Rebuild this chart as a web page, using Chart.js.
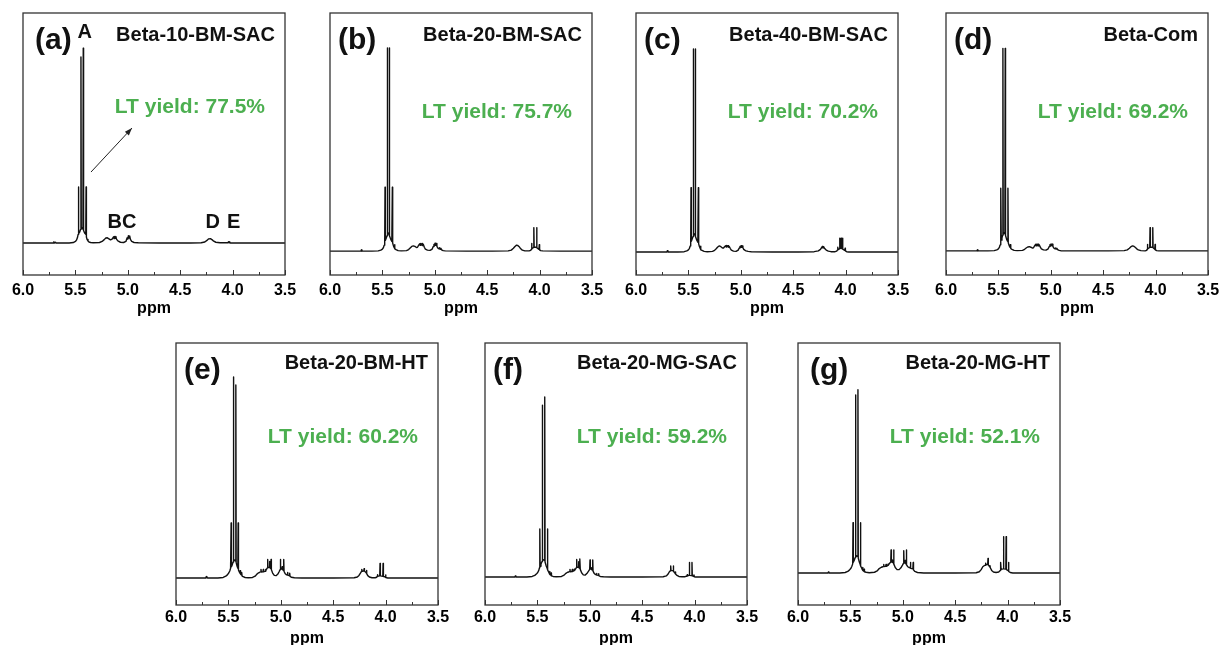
<!DOCTYPE html>
<html>
<head>
<meta charset="utf-8">
<script src="https://cdn.jsdelivr.net/npm/chart.js@4.4.1/dist/chart.umd.min.js"></script>
<style>
  html, body { margin: 0; padding: 0; background: #fff; overflow: hidden; }
  #figure { position: relative; width: 1221px; height: 645px; overflow: hidden; }
  #figure canvas { position: absolute; }
</style>
</head>
<body>
<div id="figure"></div>
<script>
// 1H NMR spectra, 6.0 - 3.5 ppm, one panel per catalyst
const panelTags = ["(a)", "(b)", "(c)", "(d)", "(e)", "(f)", "(g)"];
const sampleNames = ["Beta-10-BM-SAC", "Beta-20-BM-SAC", "Beta-40-BM-SAC", "Beta-Com",
                     "Beta-20-BM-HT", "Beta-20-MG-SAC", "Beta-20-MG-HT"];
const ltYields = [77.5, 75.7, 70.2, 69.2, 60.2, 59.2, 52.1];
const ppmTicks = [6.0, 5.5, 5.0, 4.5, 4.0, 3.5];

// [shift (ppm), intensity (% of frame height)]
const spectrumA = [
  [6.00,12.2],[5.85,12.2],[5.71,12.2],[5.705,12.7],[5.70,12.2],[5.69,12.5],[5.685,12.2],
  [5.56,12.2],[5.52,12.4],[5.50,12.8],[5.49,13.3],[5.481,14.2],[5.474,15.5],
  [5.471,33.6],[5.468,15.8],[5.458,16.5],[5.450,17.5],[5.447,83.2],[5.444,17.5],
  [5.436,18.0],[5.428,17.5],[5.425,86.6],[5.422,17.0],[5.412,16.0],[5.401,15.5],
  [5.398,33.6],[5.395,14.5],[5.389,13.6],[5.380,13.0],[5.370,12.6],[5.355,12.4],[5.33,12.3],
  [5.27,12.4],[5.245,12.8],[5.225,13.5],[5.21,14.1],[5.195,14.2],[5.18,13.8],[5.165,13.4],
  [5.15,13.7],[5.136,14.6],[5.131,13.9],[5.126,14.7],[5.120,14.0],[5.114,14.7],[5.108,13.7],
  [5.095,13.0],[5.07,12.5],[5.04,12.4],[5.018,12.8],[5.006,14.2],[5.000,13.7],[4.994,15.0],
  [4.988,14.1],[4.982,14.9],[4.975,13.6],[4.963,12.8],[4.94,12.4],[4.90,12.3],
  [4.70,12.2],[4.40,12.2],[4.30,12.3],[4.265,12.6],[4.245,13.2],[4.228,13.8],[4.212,13.9],
  [4.197,13.5],[4.18,12.9],[4.16,12.5],[4.12,12.3],[4.045,12.3],[4.038,12.7],[4.034,12.3],
  [4.028,12.7],[4.022,12.2],[3.80,12.2],[3.50,12.2]
];
const spectrumB = [
  [6.00,9.1],[5.85,9.1],[5.705,9.1],[5.700,9.6],[5.695,9.1],[5.60,9.1],[5.54,9.2],[5.515,9.5],
  [5.50,9.9],[5.49,10.5],[5.483,11.4],[5.478,12.6],[5.475,33.5],[5.472,13.2],[5.464,14.0],
  [5.456,15.0],[5.453,86.7],[5.450,15.4],[5.443,16.0],[5.437,15.6],[5.434,86.7],[5.431,15.0],
  [5.420,13.6],[5.410,12.8],[5.405,33.5],[5.402,12.2],[5.395,11.2],[5.388,10.5],[5.384,11.6],
  [5.380,10.0],[5.37,9.7],[5.35,9.3],[5.32,9.2],
  [5.27,9.3],[5.25,9.7],[5.235,10.3],[5.22,10.9],[5.205,11.1],[5.19,10.9],[5.175,10.5],
  [5.165,10.6],[5.155,11.3],[5.145,11.9],[5.140,11.3],[5.135,12.0],[5.128,11.4],[5.122,12.0],
  [5.116,11.2],[5.110,11.7],[5.100,10.6],[5.090,9.9],[5.07,9.5],[5.045,9.4],[5.025,9.9],
  [5.015,10.9],[5.008,11.7],[5.003,11.1],[4.998,12.1],[4.992,11.3],[4.986,12.0],[4.980,11.0],
  [4.972,10.3],[4.962,10.0],[4.955,10.4],[4.950,9.8],[4.942,10.2],[4.935,9.6],[4.92,9.3],[4.90,9.2],
  [4.70,9.1],[4.45,9.1],[4.30,9.2],[4.27,9.5],[4.25,10.2],[4.235,10.9],[4.22,11.4],[4.21,11.3],
  [4.195,10.8],[4.18,10.0],[4.165,9.5],[4.14,9.2],
  [4.10,9.2],[4.085,9.4],[4.079,9.8],[4.076,12.0],[4.073,10.0],[4.058,10.5],[4.055,18.1],
  [4.052,10.6],[4.031,10.6],[4.028,18.1],[4.025,10.4],[4.006,9.8],[4.003,11.6],[4.000,9.6],
  [3.99,9.3],[3.97,9.2],[3.80,9.1],[3.50,9.1]
];
const spectrumC = [
  [6.00,8.8],[5.85,8.8],[5.705,8.8],[5.700,9.3],[5.695,8.8],[5.60,8.8],[5.54,8.9],[5.515,9.2],
  [5.50,9.6],[5.49,10.2],[5.483,11.1],[5.478,12.3],[5.475,33.3],[5.472,12.9],[5.464,13.7],
  [5.456,14.7],[5.453,86.3],[5.450,15.1],[5.443,15.7],[5.437,15.3],[5.434,86.3],[5.431,14.7],
  [5.420,13.3],[5.410,12.5],[5.405,33.3],[5.402,11.9],[5.395,10.9],[5.388,10.2],[5.384,11.0],
  [5.380,9.6],[5.37,9.4],[5.35,9.0],[5.32,8.9],
  [5.27,9.0],[5.25,9.4],[5.235,10.0],[5.22,10.7],[5.205,11.1],[5.19,10.8],[5.175,10.3],
  [5.165,10.3],[5.155,10.8],[5.145,11.2],[5.140,10.7],[5.135,11.3],[5.128,10.8],[5.122,11.2],
  [5.116,10.6],[5.110,10.9],[5.100,10.1],[5.090,9.5],[5.07,9.1],[5.045,9.0],[5.025,9.5],
  [5.015,10.3],[5.008,10.9],[5.003,10.5],[4.998,11.2],[4.992,10.6],[4.986,11.1],[4.980,10.4],
  [4.972,9.8],[4.962,9.5],[4.950,9.2],[4.93,9.0],[4.90,8.9],
  [4.70,8.8],[4.45,8.8],[4.30,8.9],[4.26,9.2],[4.24,9.8],[4.228,10.5],[4.222,10.9],[4.216,10.3],
  [4.210,10.8],[4.200,10.1],[4.185,9.5],[4.165,9.1],[4.14,8.9],
  [4.10,8.9],[4.085,9.1],[4.079,9.5],[4.076,10.6],[4.073,9.6],[4.060,10.0],[4.057,14.0],
  [4.054,10.1],[4.046,10.2],[4.043,14.0],[4.040,10.2],[4.032,10.0],[4.029,14.0],[4.026,9.9],
  [4.008,9.4],[4.005,10.2],[4.002,9.2],[3.99,8.9],[3.97,8.8],[3.80,8.8],[3.50,8.8]
];
const spectrumD = [
  [6.00,9.2],[5.85,9.2],[5.705,9.2],[5.700,9.6],[5.695,9.2],[5.60,9.2],[5.54,9.3],[5.515,9.6],
  [5.50,10.0],[5.49,10.6],[5.484,11.5],[5.479,12.7],[5.476,33.1],[5.473,13.3],[5.466,14.1],
  [5.460,15.1],[5.457,86.5],[5.454,15.5],[5.446,16.1],[5.438,15.7],[5.435,86.5],[5.432,15.1],
  [5.422,13.7],[5.413,12.9],[5.409,33.1],[5.406,12.3],[5.398,11.3],[5.390,10.6],[5.386,11.6],
  [5.382,10.1],[5.37,9.8],[5.35,9.4],[5.32,9.3],
  [5.27,9.4],[5.25,9.8],[5.235,10.3],[5.22,10.7],[5.205,10.8],[5.19,10.6],[5.175,10.3],
  [5.165,10.4],[5.155,11.1],[5.145,11.7],[5.140,11.1],[5.135,11.8],[5.128,11.2],[5.122,11.8],
  [5.116,11.1],[5.110,11.5],[5.100,10.6],[5.090,10.0],[5.07,9.6],[5.045,9.5],[5.025,10.0],
  [5.015,10.9],[5.008,11.6],[5.003,11.0],[4.998,11.8],[4.992,11.2],[4.986,11.8],[4.980,10.9],
  [4.972,10.3],[4.962,10.0],[4.955,10.3],[4.950,9.9],[4.942,10.2],[4.935,9.7],[4.92,9.4],[4.90,9.2],
  [4.70,9.2],[4.45,9.2],[4.30,9.3],[4.27,9.6],[4.25,10.2],[4.235,10.8],[4.22,11.1],[4.21,11.0],
  [4.195,10.6],[4.18,10.0],[4.165,9.6],[4.14,9.3],
  [4.10,9.2],[4.085,9.4],[4.081,9.8],[4.078,11.7],[4.075,10.0],[4.056,10.5],[4.053,18.1],
  [4.050,10.6],[4.030,10.6],[4.027,18.1],[4.024,10.4],[4.008,9.8],[4.005,11.7],[4.002,9.6],
  [3.99,9.3],[3.97,9.2],[3.80,9.2],[3.50,9.2]
];
const spectrumE = [
  [6.00,10.3],[5.85,10.3],[5.715,10.3],[5.712,10.8],[5.708,10.5],[5.705,10.9],[5.700,10.3],
  [5.60,10.3],[5.55,10.5],[5.525,11.0],[5.51,11.5],[5.497,12.2],[5.487,13.0],[5.479,14.0],
  [5.474,31.3],[5.471,14.6],[5.463,15.4],[5.455,16.4],[5.452,87.0],[5.449,16.8],[5.441,17.2],
  [5.432,16.8],[5.429,84.0],[5.426,16.2],[5.417,14.8],[5.410,14.0],[5.407,31.3],[5.404,13.4],
  [5.396,12.6],[5.390,12.1],[5.387,13.1],[5.384,11.8],[5.376,11.5],[5.373,12.4],[5.370,11.1],
  [5.36,10.8],[5.34,10.5],[5.31,10.4],
  [5.27,10.5],[5.245,11.0],[5.228,11.8],[5.212,12.3],[5.200,12.5],[5.192,12.7],[5.189,13.6],
  [5.186,12.6],[5.170,12.7],[5.167,13.6],[5.164,12.7],[5.148,12.9],[5.145,13.6],[5.142,13.1],
  [5.134,13.8],[5.128,14.2],[5.125,17.4],[5.122,14.3],[5.109,14.3],[5.106,16.6],[5.103,14.2],
  [5.096,13.9],[5.093,17.4],[5.090,13.5],[5.078,12.2],[5.062,11.3],[5.045,11.2],[5.028,11.8],
  [5.015,12.8],[5.007,13.5],[5.004,17.4],[5.001,13.6],[4.990,13.8],[4.987,14.6],[4.984,13.6],
  [4.975,13.2],[4.972,17.4],[4.969,12.8],[4.957,11.9],[4.945,11.5],[4.937,11.6],[4.934,12.4],
  [4.931,11.3],[4.918,11.2],[4.915,12.1],[4.912,10.9],[4.90,10.6],[4.87,10.4],[4.80,10.3],
  [4.50,10.3],[4.30,10.4],[4.27,10.7],[4.254,11.3],[4.240,12.2],[4.230,12.8],[4.227,13.6],
  [4.224,12.9],[4.208,13.0],[4.205,13.9],[4.202,13.0],[4.185,12.3],[4.182,13.2],[4.179,12.0],
  [4.170,11.2],[4.155,10.7],[4.13,10.4],[4.10,10.4],[4.085,10.6],[4.081,11.0],[4.078,11.6],
  [4.075,10.9],[4.056,11.1],[4.053,15.9],[4.050,11.1],[4.027,11.0],[4.024,15.9],[4.021,10.9],
  [4.003,10.7],[4.000,11.5],[3.997,10.5],[3.98,10.3],[3.80,10.3],[3.50,10.3]
];
const spectrumF = [
  [6.00,10.7],[5.85,10.7],[5.715,10.7],[5.710,11.1],[5.705,10.7],[5.60,10.7],[5.55,10.9],
  [5.525,11.3],[5.51,11.8],[5.497,12.4],[5.487,13.2],[5.480,14.2],[5.477,29.0],[5.474,14.8],
  [5.466,15.6],[5.456,16.6],[5.453,76.3],[5.450,17.0],[5.442,17.3],[5.433,17.0],[5.430,79.4],
  [5.427,16.4],[5.416,14.9],[5.407,14.0],[5.404,29.0],[5.401,13.4],[5.393,12.6],[5.386,12.0],
  [5.383,12.8],[5.380,11.7],[5.372,11.4],[5.369,12.2],[5.366,11.1],[5.35,10.9],[5.32,10.8],
  [5.27,10.9],[5.245,11.4],[5.228,12.1],[5.212,12.5],[5.200,12.6],[5.192,12.8],[5.189,13.6],
  [5.186,12.7],[5.170,12.8],[5.167,13.6],[5.164,12.8],[5.151,13.0],[5.148,13.7],[5.145,13.2],
  [5.134,13.9],[5.128,14.3],[5.125,17.4],[5.122,14.4],[5.109,14.4],[5.106,16.5],[5.103,14.2],
  [5.097,14.0],[5.094,17.6],[5.091,13.6],[5.078,12.3],[5.062,11.5],[5.045,11.4],[5.028,12.0],
  [5.012,12.9],[5.001,13.6],[4.998,17.2],[4.995,13.7],[4.988,13.9],[4.985,14.2],[4.982,13.6],
  [4.975,13.3],[4.972,17.2],[4.969,12.9],[4.957,12.0],[4.945,11.6],[4.938,11.7],[4.935,12.0],
  [4.932,11.4],[4.918,11.3],[4.915,11.9],[4.912,11.1],[4.90,10.9],[4.87,10.8],[4.80,10.7],
  [4.50,10.7],[4.30,10.8],[4.27,11.1],[4.255,11.7],[4.242,12.6],[4.231,13.1],[4.228,14.9],
  [4.225,13.2],[4.206,13.1],[4.203,14.9],[4.200,12.9],[4.186,12.1],[4.183,12.6],[4.180,11.8],
  [4.168,11.3],[4.150,10.9],[4.12,10.8],[4.09,10.8],[4.078,11.0],[4.073,11.2],[4.070,11.6],
  [4.067,11.1],[4.053,11.3],[4.050,16.2],[4.047,11.3],[4.028,11.2],[4.025,16.2],[4.022,11.1],
  [4.009,10.9],[4.006,11.5],[4.003,10.8],[3.99,10.7],[3.80,10.7],[3.50,10.7]
];
const spectrumG = [
  [6.00,12.2],[5.85,12.2],[5.715,12.2],[5.710,12.6],[5.705,12.2],[5.60,12.2],[5.55,12.4],
  [5.525,12.8],[5.51,13.3],[5.497,13.9],[5.487,14.7],[5.478,15.7],[5.475,31.4],[5.472,16.3],
  [5.463,17.1],[5.454,18.1],[5.451,80.2],[5.448,18.5],[5.440,18.8],[5.431,18.5],[5.428,82.2],
  [5.425,17.9],[5.415,16.4],[5.407,15.5],[5.404,31.4],[5.401,14.9],[5.393,14.1],[5.386,13.5],
  [5.383,14.3],[5.380,13.2],[5.372,12.9],[5.369,13.7],[5.366,12.7],[5.35,12.5],[5.32,12.3],
  [5.27,12.5],[5.245,13.0],[5.225,13.9],[5.205,14.4],[5.190,14.6],[5.186,14.7],[5.183,15.5],
  [5.180,14.7],[5.163,14.8],[5.160,15.5],[5.157,14.8],[5.144,15.0],[5.141,15.6],[5.138,15.2],
  [5.125,16.0],[5.115,16.3],[5.112,21.0],[5.109,16.4],[5.103,16.5],[5.100,17.2],[5.097,16.3],
  [5.090,16.0],[5.087,21.0],[5.084,15.6],[5.072,14.3],[5.055,13.5],[5.035,13.5],[5.018,14.2],
  [5.003,15.2],[4.994,15.9],[4.991,20.7],[4.988,16.0],[4.981,16.2],[4.978,17.0],[4.975,16.0],
  [4.969,15.7],[4.966,21.0],[4.963,15.3],[4.952,14.6],[4.938,14.2],[4.930,14.5],[4.927,16.2],
  [4.924,14.0],[4.904,13.8],[4.901,16.2],[4.898,13.4],[4.885,12.8],[4.86,12.4],[4.80,12.2],
  [4.50,12.2],[4.30,12.3],[4.27,12.7],[4.252,13.5],[4.237,14.6],[4.224,15.0],[4.212,15.2],
  [4.209,16.0],[4.206,15.3],[4.190,15.5],[4.187,17.8],[4.184,15.3],[4.171,14.6],[4.168,15.0],
  [4.165,14.2],[4.152,13.2],[4.135,12.6],[4.11,12.4],[4.085,12.6],[4.070,13.2],[4.068,13.6],
  [4.065,16.2],[4.062,13.6],[4.042,13.8],[4.039,26.1],[4.036,13.8],[4.017,13.7],[4.014,26.1],
  [4.011,13.5],[3.994,13.1],[3.991,16.2],[3.988,12.8],[3.975,12.4],[3.95,12.2],[3.80,12.2],[3.50,12.2]
];
const spectra = [spectrumA, spectrumB, spectrumC, spectrumD, spectrumE, spectrumF, spectrumG];

// frame positions on the page (px) and text offsets inside each frame
const FRAME = 262, PAD_L = 19, PAD_R = 19, PAD_T = 8, AXIS_H = 45;
const panelLayout = [
  { left: 23,  top: 13,  tagDx: 12, titleDy: 22, yieldDy: 94, tickPad: 6 },
  { left: 330, top: 13,  tagDx: 8,  titleDy: 22, yieldDy: 99, tickPad: 6 },
  { left: 636, top: 13,  tagDx: 8,  titleDy: 22, yieldDy: 99, tickPad: 6 },
  { left: 946, top: 13,  tagDx: 8,  titleDy: 22, yieldDy: 99, tickPad: 6 },
  { left: 176, top: 343, tagDx: 8,  titleDy: 20, yieldDy: 94, tickPad: 3 },
  { left: 485, top: 343, tagDx: 8,  titleDy: 20, yieldDy: 94, tickPad: 3 },
  { left: 798, top: 343, tagDx: 12, titleDy: 20, yieldDy: 94, tickPad: 3 }
];
// peak assignments and arrow in panel (a), in axis units
const peakLetters = [["A", 5.41, 92.4], ["BC", 5.055, 20.2], ["D", 4.19, 20.2], ["E", 3.99, 20.2]];
const arrowFrom = [5.351, 39.3], arrowTo = [4.96, 56.1];

const FONT = '"Liberation Sans", Arial, Helvetica, sans-serif';
const GREEN = "#4caf50";

const frameDecor = {
  id: "frameDecor",
  afterDraw(chart, args, opts) {
    const i = opts.index;
    const lay = panelLayout[i];
    const { ctx, chartArea: a, scales: { x, y } } = chart;
    ctx.save();
    ctx.strokeStyle = "#333";
    ctx.lineWidth = 1.3;
    ctx.strokeRect(a.left, a.top, a.width, a.height);

    // inward ticks along the bottom edge, minor ticks halfway
    ctx.lineWidth = 1;
    const majors = x.ticks.map(t => t.value);
    const tickAt = (v, len) => {
      const px = Math.round(x.getPixelForValue(v)) + 0.5;
      ctx.beginPath();
      ctx.moveTo(px, a.bottom);
      ctx.lineTo(px, a.bottom - len);
      ctx.stroke();
    };
    majors.forEach((v, k) => {
      tickAt(v, 5);
      if (k < majors.length - 1) tickAt((v + majors[k + 1]) / 2, 3);
    });

    ctx.textBaseline = "middle";
    ctx.fillStyle = "#111";
    ctx.textAlign = "left";
    ctx.font = "bold 30px " + FONT;
    ctx.fillText(panelTags[i], a.left + lay.tagDx, a.top + 28);

    ctx.textAlign = "right";
    ctx.font = "bold 20px " + FONT;
    ctx.fillText(sampleNames[i], a.right - 10, a.top + lay.titleDy);

    ctx.fillStyle = GREEN;
    ctx.font = "bold 21px " + FONT;
    ctx.fillText("LT yield: " + ltYields[i].toFixed(1) + "%", a.right - 20, a.top + lay.yieldDy);

    if (i === 0) {
      ctx.fillStyle = "#111";
      ctx.textAlign = "center";
      ctx.font = "bold 20px " + FONT;
      peakLetters.forEach(([txt, px, py]) => {
        ctx.fillText(txt, x.getPixelForValue(px), y.getPixelForValue(py));
      });
      const x0 = x.getPixelForValue(arrowFrom[0]), y0 = y.getPixelForValue(arrowFrom[1]);
      const x1 = x.getPixelForValue(arrowTo[0]), y1 = y.getPixelForValue(arrowTo[1]);
      ctx.strokeStyle = "#222";
      ctx.lineWidth = 1;
      ctx.beginPath();
      ctx.moveTo(x0, y0);
      ctx.lineTo(x1, y1);
      ctx.stroke();
      const ang = Math.atan2(y1 - y0, x1 - x0);
      ctx.fillStyle = "#222";
      ctx.beginPath();
      ctx.moveTo(x1, y1);
      ctx.lineTo(x1 - 8 * Math.cos(ang - 0.35), y1 - 8 * Math.sin(ang - 0.35));
      ctx.lineTo(x1 - 8 * Math.cos(ang + 0.35), y1 - 8 * Math.sin(ang + 0.35));
      ctx.closePath();
      ctx.fill();
    }
    ctx.restore();
  }
};

const figure = document.getElementById("figure");

spectra.forEach((points, i) => {
  const lay = panelLayout[i];
  const canvas = document.createElement("canvas");
  canvas.width = PAD_L + FRAME + PAD_R;
  canvas.height = PAD_T + FRAME + AXIS_H;
  canvas.style.left = (lay.left - PAD_L) + "px";
  canvas.style.top = (lay.top - PAD_T) + "px";
  figure.appendChild(canvas);

  new Chart(canvas, {
    type: "line",
    data: {
      datasets: [{
        data: points.map(([x, y]) => ({ x, y })),
        borderColor: "#111",
        borderWidth: 1.4,
        borderJoinStyle: "round",
        borderCapStyle: "round",
        pointRadius: 0,
        tension: 0,
        fill: false
      }]
    },
    options: {
      responsive: false,
      animation: false,
      devicePixelRatio: 1,
      events: [],
      layout: { padding: { left: PAD_L, right: PAD_R, top: PAD_T, bottom: 0 } },
      plugins: {
        legend: { display: false },
        tooltip: { enabled: false },
        frameDecor: { index: i }
      },
      scales: {
        x: {
          type: "linear",
          reverse: true,
          min: 3.5,
          max: 6.0,
          afterBuildTicks: scale => { scale.ticks = ppmTicks.map(v => ({ value: v })); },
          afterFit: scale => { scale.height = AXIS_H; },
          grid: { display: false, drawTicks: false },
          border: { display: false },
          ticks: {
            padding: lay.tickPad,
            color: "#000",
            maxRotation: 0,
            autoSkip: false,
            font: { family: FONT, size: 16, weight: "bold" },
            callback: v => Number(v).toFixed(1)
          },
          title: {
            display: true,
            text: "ppm",
            color: "#000",
            font: { family: FONT, size: 16, weight: "bold" },
            padding: { top: 0, bottom: 2 }
          }
        },
        y: { display: false, min: 0, max: 100 }
      }
    },
    plugins: [frameDecor]
  });
});
</script>
</body>
</html>
